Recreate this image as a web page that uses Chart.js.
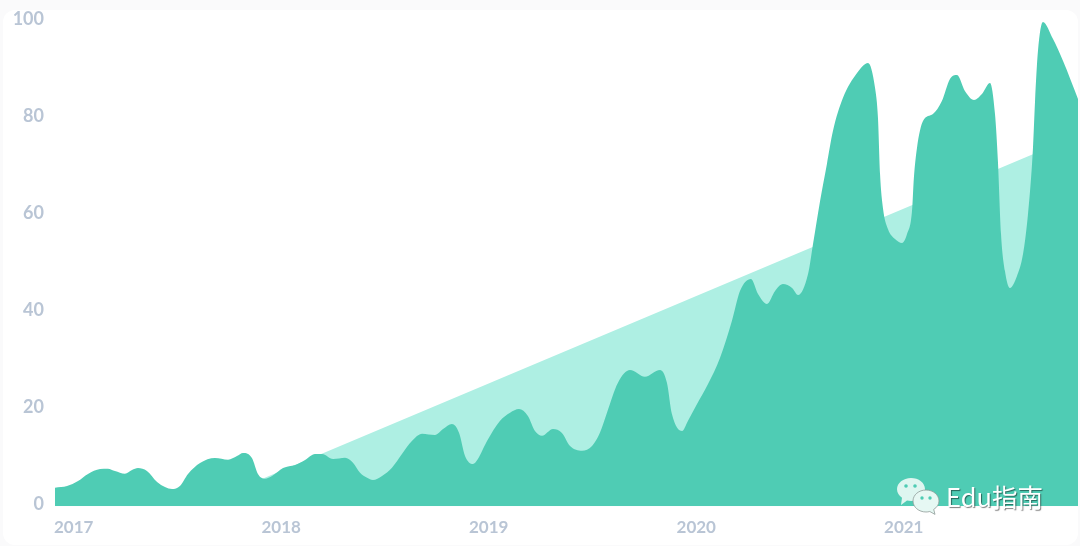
<!DOCTYPE html>
<html>
<head>
<meta charset="utf-8">
<title>Chart</title>
<script src="https://cdn.jsdelivr.net/npm/chart.js@4/dist/chart.umd.min.js"></script>
<style>
    html, body { margin: 0; padding: 0; width: 1080px; height: 546px; overflow: hidden; background: #fafafb; }
    #card { position: absolute; left: 3px; top: 10px; width: 1075px; height: 535px; background: #fff; border-radius: 12px; }
    #grafico { position: absolute; left: 0; top: 1px; }
    #mark { position: absolute; left: 895px; top: 476px; }
    #markText { position: absolute; left: 946px; top: 478px; font: 400 25.5px "Noto Sans CJK SC", "Noto Sans", sans-serif; line-height: 36px; color: #fff; text-shadow: 1px 1px 1px rgba(0, 0, 0, .5); white-space: nowrap; }
</style>
</head>
<body>
<div id="card"></div>
<canvas id="grafico" width="1080" height="545"></canvas>
<svg id="mark" width="48" height="42" viewBox="0 0 48 42">
    <path d="M16 2C8.300 2 2 7 2 13.200c0 3.500 2 6.500 5 8.600L6 29l6-4.400c1.300.3 2.600.4 4 .4 7.700 0 14-5.300 14-11.800S23.700 2 16 2z" fill="#e6f8f3" opacity=".95"/>
    <circle cx="11" cy="10" r="1.800" fill="#4fccb4"/>
    <circle cx="20" cy="10" r="1.800" fill="#4fccb4"/>
    <path d="M31 14c-7.200 0-13 4.900-13 11s5.800 11 13 11c1.300 0 2.600-.2 3.800-.5l5.200 2.900-1.300-5c3.300-2 5.300-5 5.300-8.400 0-6.100-5.800-11-13-11z" fill="#e6f8f3" stroke="#8f9c98" stroke-width=".8"/>
    <circle cx="27" cy="22" r="1.700" fill="#4fccb4"/>
    <circle cx="35" cy="22" r="1.700" fill="#4fccb4"/>
</svg>
<div id="markText">Edu指南</div>
<script>
    // Values
    var years = [
        2017.000, 2017.058, 2017.111, 2017.159, 2017.217, 2017.255, 2017.289, 2017.337, 2017.371, 2017.400,
        2017.443, 2017.492, 2017.530, 2017.564, 2017.602, 2017.641, 2017.699, 2017.771, 2017.834, 2017.877,
        2017.906, 2017.949, 2017.978, 2018.012, 2018.046, 2018.099, 2018.157, 2018.205, 2018.253, 2018.287,
        2018.340, 2018.398, 2018.436, 2018.470, 2018.504, 2018.532, 2018.576, 2018.624, 2018.672, 2018.720,
        2018.769, 2018.831, 2018.870, 2018.913, 2018.947, 2018.976, 2019.014, 2019.038, 2019.082, 2019.144,
        2019.193, 2019.236, 2019.279, 2019.313, 2019.347, 2019.400, 2019.443, 2019.482, 2019.540, 2019.588,
        2019.626, 2019.660, 2019.713, 2019.771, 2019.843, 2019.916, 2019.949, 2019.973, 2020.022, 2020.050,
        2020.094, 2020.147, 2020.205, 2020.262, 2020.301, 2020.354, 2020.388, 2020.431, 2020.470, 2020.508,
        2020.552, 2020.581, 2020.629, 2020.653, 2020.687, 2020.720, 2020.749, 2020.797, 2020.865, 2020.918,
        2020.952, 2020.966, 2020.976, 2020.990, 2021.014, 2021.048, 2021.082, 2021.106, 2021.130, 2021.139,
        2021.154, 2021.183, 2021.231, 2021.274, 2021.313, 2021.347, 2021.385, 2021.429, 2021.467, 2021.506,
        2021.530, 2021.544, 2021.559, 2021.578, 2021.602, 2021.636, 2021.665, 2021.689, 2021.713, 2021.723,
        2021.737, 2021.761, 2021.809, 2021.858, 2021.930
    ];
    var interest = [
        3.42, 3.77, 4.80, 6.25, 7.28, 7.34, 6.87, 6.31, 7.07, 7.48,
        6.87, 4.60, 3.57, 3.15, 3.77, 6.25, 8.52, 9.55, 9.20, 9.96,
        10.58, 9.55, 6.25, 5.28, 5.84, 7.48, 8.10, 9.13, 10.37, 10.37,
        9.34, 9.61, 8.58, 6.52, 5.48, 5.01, 5.84, 7.55, 10.37, 13.05,
        14.56, 14.29, 15.53, 16.56, 14.76, 9.96, 8.31, 9.34, 13.05, 17.18,
        18.89, 19.65, 18.21, 15.11, 14.14, 15.53, 14.70, 12.02, 11.05, 12.02,
        14.76, 18.89, 25.07, 27.69, 26.31, 27.69, 25.07, 18.62, 15.11, 17.18,
        20.68, 24.80, 30.23, 37.79, 43.98, 46.45, 43.36, 41.30, 43.98, 45.42,
        44.60, 43.15, 47.48, 53.67, 62.54, 70.16, 76.97, 83.77, 88.93, 91.00,
        85.84, 79.65, 68.10, 61.09, 56.76, 54.70, 53.88, 55.73, 60.47, 67.28,
        73.46, 79.03, 80.47, 83.15, 87.69, 88.52, 85.22, 83.36, 84.60, 86.87,
        80.47, 70.78, 55.73, 48.10, 44.60, 47.07, 51.61, 59.86, 73.46, 83.15,
        93.46, 99.44, 95.97, 91.40, 83.57
    ];
    var trendYears = [2017.708, 2021.930];
    var trendValues = [0, 76.1];
    var yearTicks = [2017, 2018, 2019, 2020, 2021];
    var valueTicks = [0, 20, 40, 60, 80, 100];

    function toPoints(xs, ys) {
        return xs.map(function (x, i) {
            return { x: x, y: ys[i] };
        });
    }

    function toTicks(list) {
        return list.map(function (v) {
            return { value: v };
        });
    }

    var labelColor = '#b9c5d5';

    new Chart(document.getElementById('grafico').getContext('2d'), {
        type: 'line',
        data: {
            datasets: [{
                data: toPoints(years, interest),
                backgroundColor: '#4fccb4',
                borderWidth: 0,
                pointRadius: 0,
                fill: 'start',
                cubicInterpolationMode: 'monotone',
                order: 1
            }, {
                data: toPoints(trendYears, trendValues),
                backgroundColor: '#aeefe3',
                borderWidth: 0,
                pointRadius: 0,
                fill: 'start',
                order: 2
            }]
        },
        options: {
            responsive: false,
            animation: false,
            devicePixelRatio: 1,
            layout: { padding: { top: 18.3, right: 2, left: 0, bottom: 0 } },
            plugins: { legend: { display: false }, tooltip: { enabled: false } },
            scales: {
                x: {
                    type: 'linear',
                    min: 2017,
                    max: 2021.93,
                    grid: { display: false, drawTicks: false },
                    border: { display: false },
                    afterBuildTicks: function (axis) { axis.ticks = toTicks(yearTicks); },
                    afterFit: function (axis) {
                        axis.height = 39.8;
                        axis.paddingLeft = 0;
                        axis.paddingRight = 0;
                    },
                    ticks: {
                        align: 'start',
                        autoSkip: false,
                        maxRotation: 0,
                        padding: 11,
                        labelOffset: -1,
                        font: { family: 'Lato', size: 17, weight: '700' },
                        color: labelColor,
                        callback: function (v) { return String(v); }
                    }
                },
                y: {
                    min: -0.4,
                    max: 100,
                    grid: { display: false, drawTicks: false },
                    border: { display: false },
                    afterBuildTicks: function (axis) { axis.ticks = toTicks(valueTicks); },
                    afterFit: function (axis) {
                        axis.width = 55;
                        axis.paddingTop = 0;
                        axis.paddingBottom = 0;
                    },
                    ticks: {
                        padding: 11,
                        font: { family: 'Lato', size: 18, weight: '700' },
                        color: labelColor,
                        callback: function (v) { return String(v); }
                    }
                }
            }
        }
    });
</script>
</body>
</html>
